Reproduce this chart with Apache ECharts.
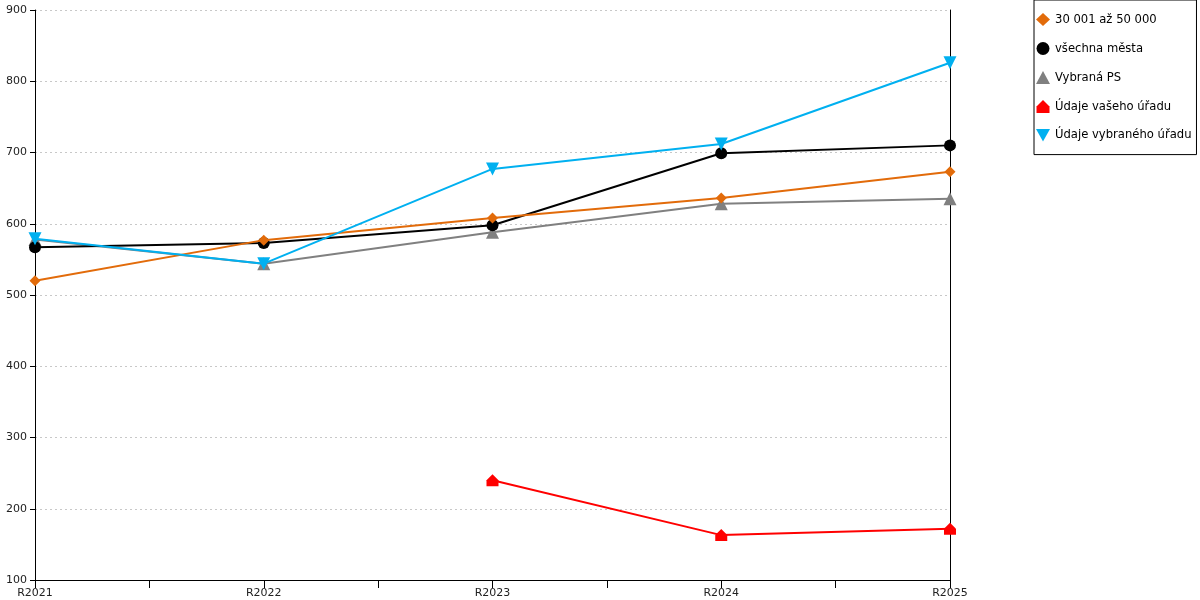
<!DOCTYPE html>
<html lang="cs">
<head>
    <meta charset="UTF-8">
    <title>Graf</title>
    <style>
        html, body { margin: 0; padding: 0; background: #fff; }
        #main { width: 1200px; height: 600px; }
    </style>
</head>
<body>
    <div id="main"></div>
    <script src="https://cdn.jsdelivr.net/npm/echarts@6/dist/echarts.min.js"></script>
    <script>
        // data
        var years = ["R2021", "R2022", "R2023", "R2024", "R2025"];
        var names = ["30 001 až 50 000", "všechna města", "Vybraná PS", "Údaje vašeho úřadu", "Údaje vybraného úřadu"];
        var velikost = [520, 577, 608, 636, 673];      // 30 001 až 50 000
        var vsechnaMesta = [567, 573, 598, 699, 710];
        var vybranaPS = [578, 544, 588, 628, 635];
        var vasUrad = [null, null, 240, 163, 172];
        var vybranyUrad = [579, 544, 677, 712, 826];

        var house = "path://M5,0 L10,5 L10,10 L0,10 L0,5 Z";
        var downTri = "path://M0,0 L10,0 L5,9 Z";
        var icons = ["diamond", "circle", "triangle", house, downTri];

        function pts(arr) {
            return arr.map(function (v, i) { return [i, v]; });
        }

        function line(name, arr, color, symbol, size, z, rotate) {
            return {
                name: name,
                type: "line",
                data: pts(arr),
                symbol: symbol,
                symbolSize: size,
                symbolRotate: rotate || 0,
                showAllSymbol: true,
                connectNulls: false,
                z: z,
                lineStyle: { color: color, width: 2 },
                itemStyle: { color: color },
                emphasis: { disabled: true }
            };
        }

        var myChart = echarts.init(document.getElementById("main"));
        var option = {
            animation: false,
            backgroundColor: "#fff",
            textStyle: { fontFamily: "DejaVu Sans" },
            grid: { left: 35, right: 250, top: 10, bottom: 20 },
            legend: {
                orient: "vertical",
                left: 1034,
                top: 0,
                padding: [13, 5, 13, 2],
                itemGap: 16,
                itemWidth: 14,
                itemHeight: 13,
                borderColor: "#000",
                borderWidth: 1,
                data: names.map(function (n, i) { return { name: n, icon: icons[i] }; }),
                textStyle: { fontSize: 11.6, color: "#000", fontFamily: "DejaVu Sans" }
            },
            xAxis: {
                type: "value",
                min: 0,
                max: 4,
                interval: 1,
                axisLine: { lineStyle: { color: "#000", width: 1 } },
                axisTick: { show: true, length: 8, lineStyle: { color: "#000" } },
                minorTick: { show: true, splitNumber: 2, length: 8, lineStyle: { color: "#000" } },
                splitLine: { show: false },
                axisLabel: {
                    color: "#222",
                    fontSize: 11,
                    margin: 8,
                    formatter: function (v) { return years[v]; }
                }
            },
            yAxis: [{
                type: "value",
                min: 100,
                max: 900,
                interval: 100,
                axisLine: { show: true, lineStyle: { color: "#000", width: 1 } },
                axisTick: { show: true, length: 5, lineStyle: { color: "#000" } },
                axisLabel: { color: "#222", fontSize: 11, margin: 8 },
                splitLine: { show: true, lineStyle: { color: "#c8c8c8", type: [2, 3], width: 1 } }
            }, {
                type: "value",
                position: "right",
                min: 100,
                max: 900,
                interval: 100,
                axisLine: { show: true, lineStyle: { color: "#000", width: 1 } },
                axisTick: { show: false },
                axisLabel: { show: false },
                splitLine: { show: false }
            }],
            series: [
                line(names[0], velikost, "#e26b0a", "diamond", 11, 4),
                line(names[1], vsechnaMesta, "#000000", "circle", 12, 3),
                line(names[2], vybranaPS, "#808080", "triangle", 13, 2),
                line(names[3], vasUrad, "#ff0000", house, 12, 2),
                line(names[4], vybranyUrad, "#00b0f0", "triangle", 13, 5, 180)
            ]
        };
        myChart.setOption(option, true);
    </script>
</body>
</html>
